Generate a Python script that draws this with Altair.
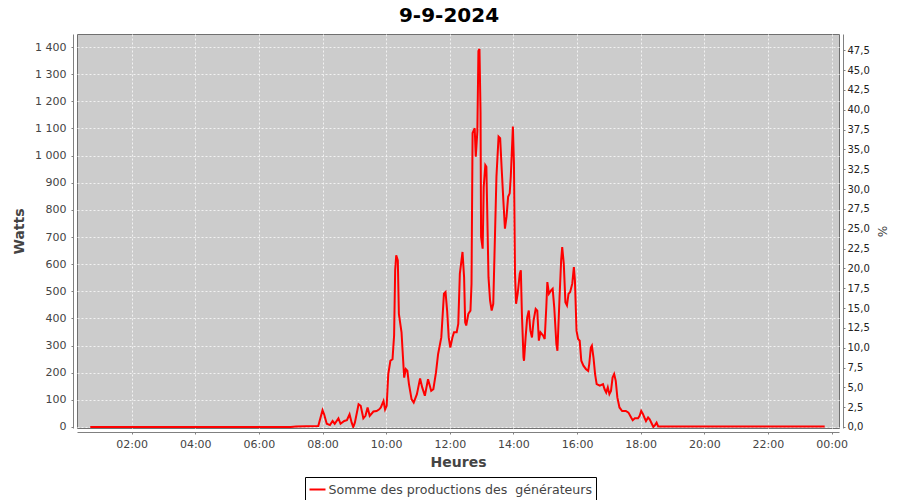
import altair as alt
import pandas as pd

# ---- data (time of day, watts) ----
times = [
    "00:42", "01:00", "01:30", "02:00", "03:00", "04:00", "05:00", "06:00", "07:00",
    "07:10", "07:30", "07:52",
    "08:00", "08:03", "08:08", "08:14", "08:19", "08:23", "08:30", "08:34", "08:41",
    "08:46", "08:51", "08:55", "08:58", "09:01", "09:08", "09:12", "09:17", "09:21",
    "09:25", "09:29", "09:36", "09:42", "09:47", "09:50", "09:55", "09:58",
    "10:01", "10:04", "10:08", "10:12", "10:15", "10:17", "10:19", "10:22", "10:24",
    "10:29", "10:31", "10:34", "10:37", "10:40", "10:43", "10:48", "10:52", "10:58",
    "11:04", "11:08", "11:13", "11:19", "11:25", "11:29", "11:34", "11:38", "11:44",
    "11:49", "11:52", "11:55", "11:58",
    "12:01", "12:05", "12:08", "12:13", "12:16", "12:19", "12:24", "12:27", "12:29",
    "12:31", "12:35", "12:39", "12:41", "12:43", "12:47", "12:49", "12:52", "12:54",
    "12:56", "12:58", "12:59",
    "13:02", "13:04", "13:07", "13:09", "13:13", "13:16", "13:19", "13:22", "13:25",
    "13:28", "13:32", "13:35", "13:38", "13:41", "13:44", "13:47", "13:50", "13:53",
    "13:55", "13:58", "13:59",
    "14:01", "14:03", "14:05", "14:08", "14:12", "14:14", "14:16", "14:19", "14:20",
    "14:23", "14:26", "14:29", "14:32", "14:35", "14:38", "14:42", "14:45", "14:48",
    "14:51", "14:56", "14:59",
    "15:02", "15:04", "15:07", "15:11", "15:14", "15:17", "15:21", "15:23", "15:27",
    "15:30", "15:32", "15:35", "15:38", "15:41", "15:44", "15:47", "15:51", "15:54",
    "15:56", "15:59",
    "16:02", "16:05", "16:08", "16:12", "16:17", "16:21", "16:23", "16:26", "16:28",
    "16:31", "16:34", "16:37", "16:43", "16:49", "16:52", "16:55", "16:58",
    "17:01", "17:04", "17:07", "17:10", "17:13", "17:16", "17:20", "17:25", "17:32",
    "17:37", "17:42", "17:45", "17:49", "17:55", "17:58",
    "18:01", "18:04", "18:07", "18:10", "18:14", "18:17", "18:21", "18:24", "18:27",
    "18:30", "18:33", "18:40",
    "19:00", "20:00", "21:00", "22:00", "23:00", "23:47",
]
watts = [
    0, 0, 0, 0, 0, 0, 0, 0, 0,
    2, 3, 4,
    62, 47, 12, 7, 22, 12, 32, 12, 22,
    25, 47, 16, 0, 16, 84, 78, 32, 41,
    72, 41, 57, 59, 65, 72, 96, 65,
    78, 195, 244, 250, 337, 577, 633, 614, 417,
    349, 281, 182, 213, 207, 158, 102, 90, 121,
    179, 146, 115, 176, 133, 139, 201, 269, 330,
    491, 497, 429, 330,
    293, 330, 349, 349, 380, 565, 645, 552, 386,
    374, 417, 429, 528, 1083, 1101, 996, 1089, 1385,
    1393, 1157, 700,
    657, 885, 965, 959, 552, 466, 429, 454, 688,
    922, 1070, 1064, 947, 836, 731, 774, 848, 861,
    922, 1058, 1107,
    972, 565, 454, 491, 565, 577, 417, 256, 244,
    330, 404, 429, 355, 330, 392, 435, 429, 318,
    349, 337, 324,
    441, 534, 491, 503, 509, 441, 306, 281, 478,
    614, 663, 602, 460, 448, 491, 497, 528, 589,
    540, 355,
    324, 318, 244, 226, 213, 207, 232, 293, 300,
    256, 195, 158, 152, 158, 139, 127, 146,
    121, 133, 182, 195, 170, 109, 72, 59, 59,
    53, 35, 25, 32, 32, 41,
    59, 49, 35, 22, 35, 28, 12, 0, 7,
    16, 2, 2,
    2, 2, 2, 2, 2, 2,
]

watt_ticks = [0, 100, 200, 300, 400, 500, 600, 700, 800, 900, 1000, 1100, 1200, 1300, 1400]
pct_ticks = [0.0, 2.5, 5.0, 7.5, 10.0, 12.5, 15.0, 17.5, 20.0, 22.5, 25.0, 27.5,
             30.0, 32.5, 35.0, 37.5, 40.0, 42.5, 45.0, 47.5]
hour_ticks = [2, 4, 6, 8, 10, 12, 14, 16, 18, 20, 22, 24]

series_name = "Somme des productions des \u00a0générateurs"
day = "2024-09-09T"

df = pd.DataFrame({"t": [day + t for t in times], "w": watts, "s": series_name})
pct_df = pd.DataFrame({"p": pct_ticks})

FONT = "DejaVu Sans"


def dt(h, m=0):
    d = 9 + h // 24
    return alt.DateTime(year=2024, month=9, date=d, hours=h % 24, minutes=m)


x_values = [dt(h) for h in hour_ticks]

line = alt.Chart(df).mark_line(strokeWidth=2, clip=True).encode(
    x=alt.X(
        "t:T",
        scale=alt.Scale(domain=[dt(0, 17), dt(24, 14)]),
        axis=alt.Axis(
            values=x_values, format="%H:%M", title="Heures", grid=True,
            offset=4, labelPadding=4, titlePadding=6, labelFlush=False,
        ),
    ),
    y=alt.Y(
        "w:Q",
        scale=alt.Scale(domain=[-3.7, 1448], nice=False, zero=False),
        axis=alt.Axis(
            values=watt_ticks, title="Watts", grid=True, offset=4,
            labelPadding=5, titlePadding=8,
            labelExpr="replace(format(datum.value, ','), ',', ' ')",
        ),
    ),
    color=alt.Color(
        "s:N",
        scale=alt.Scale(range=["#ff0000"]),
        legend=alt.Legend(
            title=None, orient="none", legendX=228, legendY=443,
            direction="horizontal", symbolType="stroke", symbolSize=256,
            symbolStrokeWidth=2, labelFont=FONT, labelFontSize=12.6,
            labelColor="#444444", strokeColor="#000000", fillColor="#ffffff",
            padding=3.5, labelOffset=2, labelLimit=500,
        ),
    ),
)

right = alt.Chart(pct_df).mark_point(opacity=0).encode(
    y=alt.Y(
        "p:Q",
        scale=alt.Scale(domain=[-0.127, 49.56], nice=False, zero=False),
        axis=alt.Axis(
            orient="right", values=pct_ticks, title="%", grid=False, offset=4,
            labelPadding=2, titlePadding=5, labelFontSize=10, labelColor="#222222",
            titleFontWeight="normal", titleFontSize=12,
            labelExpr="replace(format(datum.value, '.1f'), '.', ',')",
        ),
    )
)

chart = alt.layer(line, right).resolve_scale(y="independent").properties(
    width=762,
    height=394,
    autosize=alt.AutoSizeParams(type="none"),
    padding={"left": 69, "top": 26, "right": 53, "bottom": 72},
    title=alt.TitleParams(
        "9-9-2024", font=FONT, fontSize=20, fontWeight="bold", color="#000000",
        anchor="middle", dx=-9, offset=8,
    ),
).configure_view(
    fill="#cccccc", stroke="#707070", strokeWidth=1,
).configure_axis(
    domainColor="#808080", tickColor="#808080", tickSize=2,
    labelFont=FONT, labelFontSize=11, labelColor="#444444",
    titleFont=FONT, titleFontSize=14, titleFontWeight="bold", titleColor="#444444",
    gridColor="#f2f2f2", gridDash=[2, 2], gridWidth=1,
)

chart.save("out.html", embed_options={"renderer": "svg", "actions": False})
